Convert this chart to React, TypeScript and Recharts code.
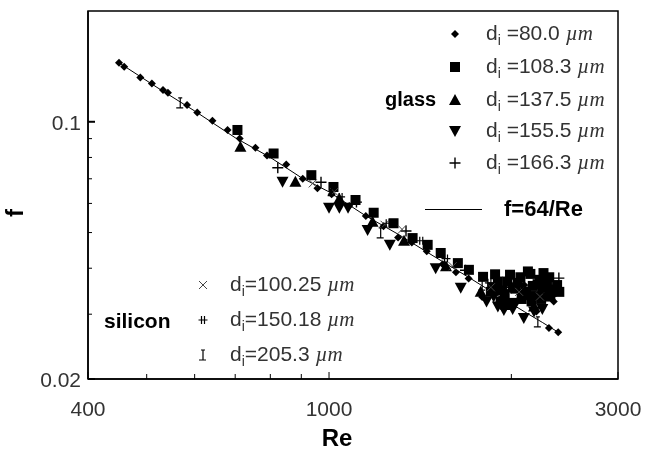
import { ScatterChart, Scatter, XAxis, YAxis, ReferenceArea } from "recharts";

// f = 64/Re guide line
const LINE_RE = [450, 520, 600, 700, 800, 900, 1000, 1150, 1300, 1500, 1700, 1900, 2100, 2250, 2390];
const LINE_F = [0.1447, 0.124, 0.107, 0.0905, 0.08, 0.0705, 0.0645, 0.0555, 0.0495, 0.0428, 0.0378, 0.0337, 0.0305, 0.0285, 0.0268];

// glass channels
const G80_RE = [450, 459, 488, 510, 532, 542, 583, 606, 642, 680, 712, 756, 790, 850, 905, 957, 1010, 1080, 1150, 1230, 1300, 1370, 1450, 1540, 1620, 1700, 1790, 1880, 1960, 2040, 2120, 2200, 2307, 2390, 1900, 2000, 2100, 2250, 2350];
const G80_F = [0.1447, 0.141, 0.132, 0.127, 0.122, 0.12, 0.111, 0.106, 0.1006, 0.095, 0.09, 0.085, 0.081, 0.0765, 0.07, 0.066, 0.0635, 0.059, 0.0555, 0.052, 0.0485, 0.047, 0.0445, 0.041, 0.039, 0.0375, 0.0334, 0.0345, 0.033, 0.0325, 0.0335, 0.0305, 0.0275, 0.0268, 0.036, 0.035, 0.036, 0.034, 0.0325];

const G108_RE = [706, 810, 935, 1017, 1106, 1185, 1278, 1374, 1455, 1529, 1632, 1702, 1796, 1860, 1900, 1950, 1990, 2030, 2070, 2110, 2150, 2190, 2230, 2270, 2310, 2350, 1920, 2000, 2080, 2160, 2240, 2320, 1880, 2130, 2260, 2380, 2400, 1850, 1930, 2010, 2090, 2170, 2250, 2330, 1970, 2050, 2210, 2290];
const G108_F = [0.095, 0.082, 0.0716, 0.0665, 0.0613, 0.0566, 0.053, 0.0483, 0.0463, 0.044, 0.0413, 0.0396, 0.0379, 0.0355, 0.0368, 0.034, 0.0384, 0.0352, 0.0378, 0.0345, 0.0386, 0.0336, 0.0372, 0.0348, 0.0378, 0.035, 0.0325, 0.0322, 0.033, 0.0325, 0.033, 0.0335, 0.0385, 0.0392, 0.0388, 0.036, 0.0345, 0.0345, 0.0348, 0.0355, 0.0342, 0.0358, 0.0352, 0.0345, 0.0368, 0.0365, 0.0362, 0.0365];

const G137_RE = [714, 880, 1040, 1180, 1330, 1560, 1780, 1960, 2180];
const G137_F = [0.0855, 0.0687, 0.0618, 0.0535, 0.0475, 0.0405, 0.0345, 0.0318, 0.0315];

const G155_RE = [838, 1000, 1040, 1075, 1158, 1260, 1500, 1650, 1820, 1870, 1944, 2010, 2097, 2180, 2250, 1900];
const G155_F = [0.0687, 0.0584, 0.0584, 0.0584, 0.0508, 0.0463, 0.04, 0.0354, 0.0325, 0.0335, 0.0308, 0.031, 0.0293, 0.0305, 0.031, 0.0315];

const G166_RE = [823, 970, 1110, 1340, 1680, 1980, 2150, 2396];
const G166_F = [0.075, 0.0685, 0.0605, 0.0505, 0.0395, 0.0355, 0.0345, 0.0376];

// silicon channels
const S100_RE = [940, 1020, 1235, 1320, 1600, 1850, 2060, 2230];
const S100_F = [0.068, 0.0645, 0.0525, 0.051, 0.0405, 0.0355, 0.0345, 0.0335];

const S150_RE = [1045, 1250, 1420, 1560, 1840, 2120, 2290];
const S150_F = [0.0625, 0.053, 0.0475, 0.0425, 0.0365, 0.0352, 0.0342];

const S205_RE = [568, 1010, 1217, 1790, 2212];
const S205_F = [0.1126, 0.065, 0.0499, 0.036, 0.0286];

const X_TICKS = [400, 500, 600, 700, 800, 900, 1000, 2000, 3000];
const X_LABELED = [400, 1000, 3000];
const Y_TICKS = [0.02, 0.03, 0.04, 0.05, 0.06, 0.07, 0.08, 0.09, 0.1];
const Y_LABELED = [0.02, 0.1];

const GLASS_LABELS = ["80.0", "108.3", "137.5", "155.5", "166.3"];
const SILICON_LABELS = ["100.25", "150.18", "205.3"];

const zip = (re: number[], f: number[]) => re.map((r, i) => ({ re: r, f: f[i] }));

const FONT = "'Liberation Sans', Arial, sans-serif";
const TXT = "#333";

type Kind = "diamond" | "square" | "up" | "down" | "plus" | "x" | "hash" | "ibeam";

function Mark({ kind, cx, cy }: { kind: Kind; cx: number; cy: number }) {
  if (cx == null || cy == null) return <g />;
  switch (kind) {
    case "diamond":
      return <polygon points={`${cx},${cy - 4} ${cx + 4},${cy} ${cx},${cy + 4} ${cx - 4},${cy}`} fill="#000" />;
    case "square":
      return <rect x={cx - 5} y={cy - 5} width={10} height={10} fill="#000" />;
    case "up":
      return <polygon points={`${cx},${cy - 6} ${cx + 6},${cy + 5} ${cx - 6},${cy + 5}`} fill="#000" />;
    case "down":
      return <polygon points={`${cx},${cy + 6} ${cx + 6},${cy - 5} ${cx - 6},${cy - 5}`} fill="#000" />;
    case "plus":
      return <path d={`M${cx - 5.5},${cy}H${cx + 5.5}M${cx},${cy - 5.5}V${cy + 5.5}`} stroke="#000" strokeWidth={1.4} />;
    case "x":
      return <path d={`M${cx - 4},${cy - 4}L${cx + 4},${cy + 4}M${cx + 4},${cy - 4}L${cx - 4},${cy + 4}`} stroke="#444" strokeWidth={1} />;
    case "hash":
      return <path d={`M${cx - 4.5},${cy}H${cx + 4.5}M${cx - 1.5},${cy - 4}V${cy + 4}M${cx + 1.5},${cy - 4}V${cy + 4}`} stroke="#000" strokeWidth={1.2} />;
    case "ibeam":
      return <path d={`M${cx},${cy - 5}V${cy + 5}M${cx - 2},${cy - 5}H${cx + 2}M${cx - 4},${cy + 5}H${cx + 3}`} stroke="#000" strokeWidth={1.2} />;
  }
  return <g />;
}

const shapeOf = (kind: Kind) => (p: any) => <Mark kind={kind} cx={p.cx} cy={p.cy} />;

function XTick({ x, y, payload }: any) {
  const v = payload.value;
  const major = X_LABELED.includes(v);
  return (
    <g>
      <line x1={x} x2={x} y1={y} y2={y - (major ? 7 : 5)} stroke="#000" strokeWidth={1} />
      {major && (
        <text x={x} y={y + 37} textAnchor="middle" fontSize={21} fontFamily={FONT} fill={TXT}>{v}</text>
      )}
    </g>
  );
}

function YTick({ x, y, payload }: any) {
  const v = payload.value;
  const major = Y_LABELED.includes(v);
  return (
    <g>
      <line x1={x} x2={x + (major ? 7 : 4)} y1={y} y2={y} stroke="#000" strokeWidth={major ? 2 : 1} />
      {major && (
        <text x={x - 7} y={y + 8} textAnchor="end" fontSize={21} fontFamily={FONT} fill={TXT}>{v}</text>
      )}
    </g>
  );
}

function LegendIcon({ kind }: { kind: Kind }) {
  return (
    <svg width={16} height={16} style={{ position: "absolute", left: -8, top: -8 }}>
      <Mark kind={kind} cx={8} cy={8} />
    </svg>
  );
}

function Row({ kind, label, x, y, tx, gap }: { kind: Kind; label: string; x: number; y: number; tx: number; gap: boolean }) {
  return (
    <>
      <div style={{ position: "absolute", left: x, top: y }}><LegendIcon kind={kind} /></div>
      <div style={{ position: "absolute", left: tx, top: y - 14, fontSize: 21, fontFamily: FONT, color: TXT, whiteSpace: "nowrap", lineHeight: "25px" }}>
        d<sub style={{ fontSize: 14, verticalAlign: "-5px" }}>i</sub>{gap ? " " : ""}={label}{" "}
        <i style={{ fontFamily: "'Liberation Serif', serif" }}>µm</i>
      </div>
    </>
  );
}

const GLASS_KINDS: Kind[] = ["diamond", "square", "up", "down", "plus"];
const GLASS_ROWS = [34, 67, 100, 131, 163];
const SILICON_KINDS: Kind[] = ["x", "hash", "ibeam"];
const SILICON_ROWS = [285, 320, 355];

export default function App() {
  return (
    <div style={{ position: "fixed", left: 0, top: 0, width: 645, height: 454 }}>
      <ScatterChart width={645} height={454} margin={{ top: 11, right: 27, bottom: 0, left: 0 }}>
        <XAxis
          dataKey="re" type="number" scale="log" domain={[400, 3000]} allowDataOverflow
          ticks={X_TICKS} interval={0} height={75} tickSize={0} tickMargin={0}
          tick={<XTick />} tickLine={false} axisLine={{ stroke: "#000", strokeWidth: 1.5 }}
        />
        <YAxis
          dataKey="f" type="number" scale="log" domain={[0.02, 0.2]} allowDataOverflow
          ticks={Y_TICKS} interval={0} width={88} tickSize={0} tickMargin={0}
          tick={<YTick />} tickLine={false} axisLine={{ stroke: "#000", strokeWidth: 1.5 }}
        />
        <ReferenceArea x1={400} x2={3000} y1={0.02} y2={0.2} fill="none" stroke="#000" strokeWidth={1.5} ifOverflow="visible" />
        <Scatter data={zip(LINE_RE, LINE_F)} line={{ stroke: "#000", strokeWidth: 1 }} shape={() => <g />} isAnimationActive={false} />
        <Scatter data={zip(G80_RE, G80_F)} shape={shapeOf("diamond")} isAnimationActive={false} />
        <Scatter data={zip(G108_RE, G108_F)} shape={shapeOf("square")} isAnimationActive={false} />
        <Scatter data={zip(G137_RE, G137_F)} shape={shapeOf("up")} isAnimationActive={false} />
        <Scatter data={zip(G155_RE, G155_F)} shape={shapeOf("down")} isAnimationActive={false} />
        <Scatter data={zip(G166_RE, G166_F)} shape={shapeOf("plus")} isAnimationActive={false} />
        <Scatter data={zip(S100_RE, S100_F)} shape={shapeOf("x")} isAnimationActive={false} />
        <Scatter data={zip(S150_RE, S150_F)} shape={shapeOf("hash")} isAnimationActive={false} />
        <Scatter data={zip(S205_RE, S205_F)} shape={shapeOf("ibeam")} isAnimationActive={false} />
      </ScatterChart>

      {/* axis titles */}
      <div style={{ position: "absolute", left: 15, top: 213, transform: "translate(-50%,-50%) rotate(-90deg)", fontSize: 24, fontWeight: "bold", fontFamily: FONT }}>f</div>
      <div style={{ position: "absolute", left: 337, top: 438, transform: "translate(-50%,-50%)", fontSize: 24, fontWeight: "bold", fontFamily: FONT }}>Re</div>

      {/* glass legend */}
      <div style={{ position: "absolute", left: 385, top: 88, fontSize: 20, fontWeight: "bold", fontFamily: FONT }}>glass</div>
      {GLASS_LABELS.map((l, i) => (
        <Row key={l} kind={GLASS_KINDS[i]} label={l} x={455} y={GLASS_ROWS[i]} tx={486} gap />
      ))}
      <div style={{ position: "absolute", left: 425, top: 209, width: 57, borderTop: "1px solid #000" }} />
      <div style={{ position: "absolute", left: 504, top: 196, fontSize: 22, fontWeight: "bold", fontFamily: FONT }}>f=64/Re</div>

      {/* silicon legend */}
      <div style={{ position: "absolute", left: 104, top: 309, fontSize: 21, fontWeight: "bold", fontFamily: FONT }}>silicon</div>
      {SILICON_LABELS.map((l, i) => (
        <Row key={l} kind={SILICON_KINDS[i]} label={l} x={203} y={SILICON_ROWS[i]} tx={230} gap={false} />
      ))}
    </div>
  );
}
